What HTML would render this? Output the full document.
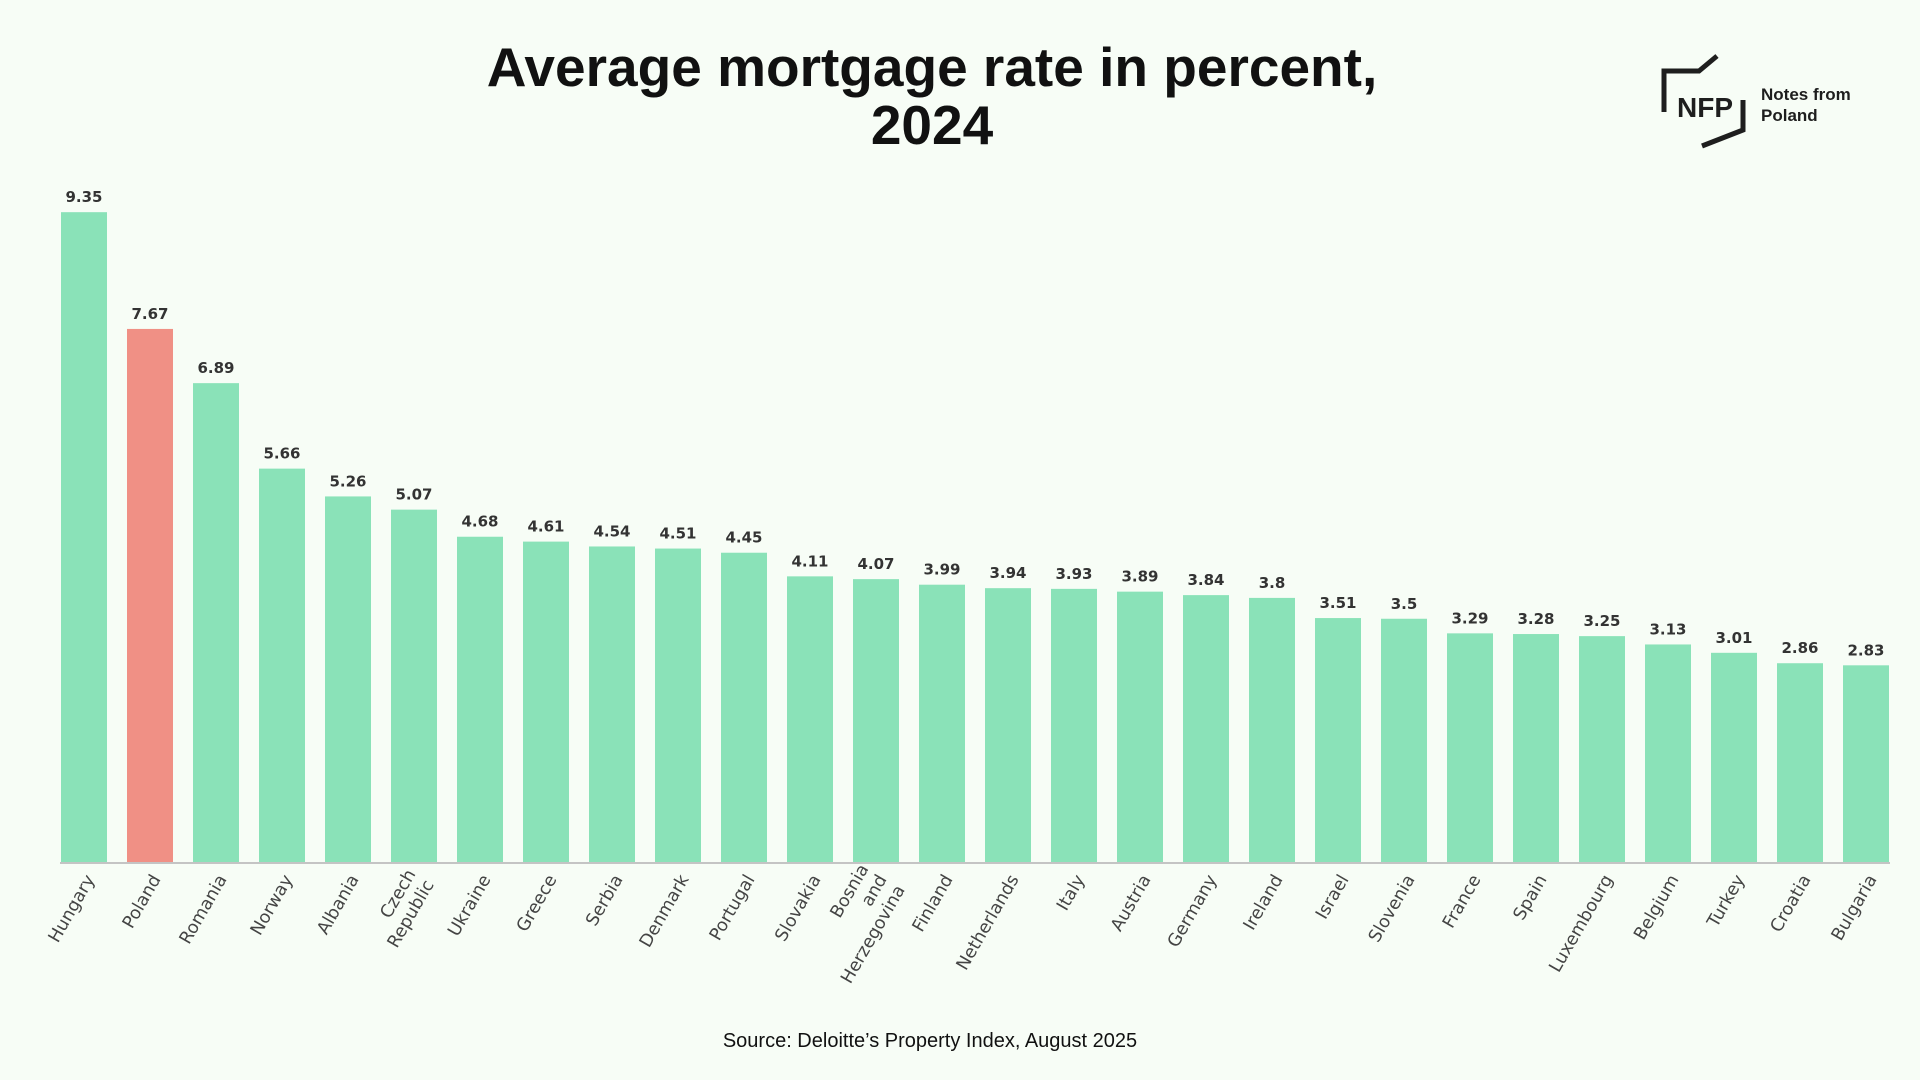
<!DOCTYPE html>
<html><head><meta charset="utf-8"><style>
html,body{margin:0;padding:0;background:#f7fdf6;}
body{width:1920px;height:1080px;position:relative;overflow:hidden;font-family:"Liberation Sans",sans-serif;}
.title{position:absolute;left:282px;width:1300px;top:38px;text-align:center;font-weight:bold;font-size:55px;line-height:58px;color:#111;}
.source{position:absolute;left:0;width:1860px;top:1030px;text-align:center;font-size:20px;color:#111;}
</style></head><body>
<div class="title">Average mortgage rate in percent,<br>2024</div>
<svg style="position:absolute;left:1620px;top:30px" width="300" height="130">
<polyline points="44,82 44,41 79,41 97,26" fill="none" stroke="#1e1e1e" stroke-width="5"/>
<polyline points="123,70 123,100 82,116" fill="none" stroke="#1e1e1e" stroke-width="5"/>
<text x="57" y="87" font-family="Liberation Sans" font-weight="bold" font-size="28" fill="#1e1e1e" textLength="56" lengthAdjust="spacingAndGlyphs">NFP</text>
<text x="141" y="70" font-family="Liberation Sans" font-weight="bold" font-size="17" fill="#1e1e1e">Notes from</text>
<text x="141" y="91" font-family="Liberation Sans" font-weight="bold" font-size="17" fill="#1e1e1e">Poland</text>
</svg>
<svg id="chart" style="position:absolute;left:0;top:0" width="1920" height="1080"></svg>
<div class="source">Source: Deloitte’s Property Index, August 2025</div>
<script>
const categories=["Hungary","Poland","Romania","Norway","Albania","Czech Republic","Ukraine","Greece","Serbia","Denmark","Portugal","Slovakia","Bosnia and Herzegovina","Finland","Netherlands","Italy","Austria","Germany","Ireland","Israel","Slovenia","France","Spain","Luxembourg","Belgium","Turkey","Croatia","Bulgaria"];
const values=[9.35,7.67,6.89,5.66,5.26,5.07,4.68,4.61,4.54,4.51,4.45,4.11,4.07,3.99,3.94,3.93,3.89,3.84,3.8,3.51,3.5,3.29,3.28,3.25,3.13,3.01,2.86,2.83];
const labelLines=[["Hungary"],["Poland"],["Romania"],["Norway"],["Albania"],["Czech","Republic"],["Ukraine"],["Greece"],["Serbia"],["Denmark"],["Portugal"],["Slovakia"],["Bosnia","and","Herzegovina"],["Finland"],["Netherlands"],["Italy"],["Austria"],["Germany"],["Ireland"],["Israel"],["Slovenia"],["France"],["Spain"],["Luxembourg"],["Belgium"],["Turkey"],["Croatia"],["Bulgaria"]];
const highlight="Poland";
const NS="http://www.w3.org/2000/svg";
const svg=document.getElementById('chart');
const x0=61,pitch=66,bw=46,base=862,scale=69.5;
const xPos=i=>x0+i*pitch;
const yPos=v=>base-v*scale;
categories.forEach((c,i)=>{
  const r=document.createElementNS(NS,'rect');
  r.setAttribute('x',xPos(i));r.setAttribute('y',yPos(values[i]));
  r.setAttribute('width',bw);r.setAttribute('height',base-yPos(values[i]));
  r.setAttribute('fill',c===highlight?'#f09085':'#8ae2b8');
  
  
  svg.appendChild(r);
  const t=document.createElementNS(NS,'text');
  t.setAttribute('x',xPos(i)+bw/2);t.setAttribute('y',yPos(values[i])-10);
  t.setAttribute('text-anchor','middle');t.setAttribute('font-weight','bold');
  t.setAttribute('font-family','DejaVu Sans, sans-serif');
  t.setAttribute('font-size','15');t.setAttribute('fill','#333');
  t.textContent=String(values[i]);
  
  
  svg.appendChild(t);
  const lines=labelLines[i];
  const g=document.createElementNS(NS,'text');
  const cx=xPos(i)+bw/2+6, cy=876;
  g.setAttribute('transform','translate('+cx+','+cy+') rotate(-60)');
  g.setAttribute('text-anchor','end');g.setAttribute('font-size','17.5');g.setAttribute('fill','#444');
  g.setAttribute('font-family','DejaVu Sans, sans-serif');
  lines.forEach((ln,k)=>{
    const s=document.createElementNS(NS,'tspan');
    s.setAttribute('x',0);
    s.setAttribute('y',(k-(lines.length-1)/2)*21+6);
    s.textContent=ln;g.appendChild(s);
  });
  
  
  svg.appendChild(g);
});
const ax=document.createElementNS(NS,'line');
ax.setAttribute('x1',60);ax.setAttribute('x2',1890);ax.setAttribute('y1',base+1);ax.setAttribute('y2',base+1);
ax.setAttribute('stroke','#c4c4c4');ax.setAttribute('stroke-width','2');


svg.appendChild(ax);
</script>
</body></html>
